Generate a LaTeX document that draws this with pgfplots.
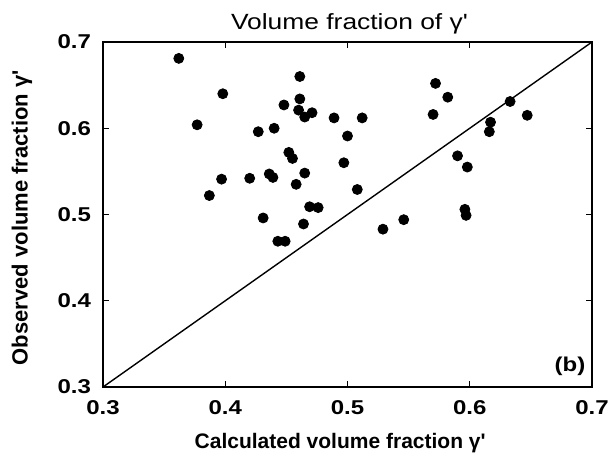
\documentclass[border=0pt]{standalone}
\usepackage{pgfplots}
\pgfplotsset{compat=1.18}
\usepackage{fontspec}
\setmainfont{Liberation Sans}
\newfontfamily\labfont{Liberation Sans}
\newfontfamily\widefont{Liberation Sans}[FakeStretch=1.2]
\begin{document}
\begin{tikzpicture}
\begin{axis}[
  scale only axis,
  width=244.5pt, height=172.5pt,
  xmin=0.3, xmax=0.7, ymin=0.3, ymax=0.7,
  xtick={0.3,0.4,0.5,0.6,0.7}, ytick={0.3,0.4,0.5,0.6,0.7},
  xticklabels={0.3,0.4,0.5,0.6,0.7}, yticklabels={0.3,0.4,0.5,0.6,0.7},
  /pgf/number format/assume math mode=true,
  tick label style={font=\widefont\fontsize{10}{12}\selectfont\bfseries},
  tick align=inside, major tick length=3pt,
  axis line style={line width=1pt},
  every tick/.style={black, line width=0.6pt},
  xticklabel style={yshift=-3pt},
  yticklabel style={xshift=-2.5pt},
  xlabel={Calculated volume fraction γ'},
  ylabel={Observed volume fraction γ'},
  xlabel style={font=\labfont\fontsize{10.5}{12}\selectfont\bfseries, at={(rel axis cs:0.485,-0.177)}, anchor=base},
  ylabel style={font=\labfont\fontsize{11}{12}\selectfont\bfseries, at={(rel axis cs:-0.166,0.491)}, anchor=center},
  clip=false,
]
\addplot[black, line width=0.7pt] coordinates {(0.3,0.3) (0.7,0.7)};
\addplot[only marks, mark=*, mark size=2.5pt, black] coordinates {
(0.362,0.681) (0.461,0.660) (0.398,0.640) (0.461,0.634) (0.448,0.627)
(0.460,0.621) (0.471,0.618) (0.465,0.613) (0.489,0.612) (0.377,0.604)
(0.440,0.600) (0.427,0.596) (0.500,0.591) (0.452,0.572) (0.455,0.565)
(0.497,0.560) (0.397,0.541) (0.420,0.542) (0.436,0.547) (0.439,0.543)
(0.465,0.548) (0.458,0.535) (0.387,0.522) (0.469,0.509) (0.476,0.508)
(0.431,0.496) (0.464,0.489) (0.443,0.469) (0.449,0.469)
(0.572,0.652) (0.582,0.636) (0.633,0.631) (0.570,0.616) (0.647,0.615)
(0.512,0.612) (0.617,0.607) (0.616,0.596) (0.590,0.568) (0.598,0.555)
(0.508,0.529) (0.596,0.506) (0.597,0.499) (0.546,0.494) (0.529,0.483)
};
\node[font=\widefont\fontsize{10}{12}\selectfont\bfseries] at (axis cs:0.682,0.324) {(b)};
\node[font=\widefont\fontsize{11}{12}\selectfont, anchor=base] at (rel axis cs:0.504,1.035) {Volume fraction of γ'};
\coordinate (bl) at (rel axis cs:-0.2106,-0.2029);
\coordinate (tr) at (rel axis cs:1.0327,1.1217);
\end{axis}
\pgfresetboundingbox
\path[use as bounding box] (bl) rectangle (tr);
\end{tikzpicture}
\end{document}
